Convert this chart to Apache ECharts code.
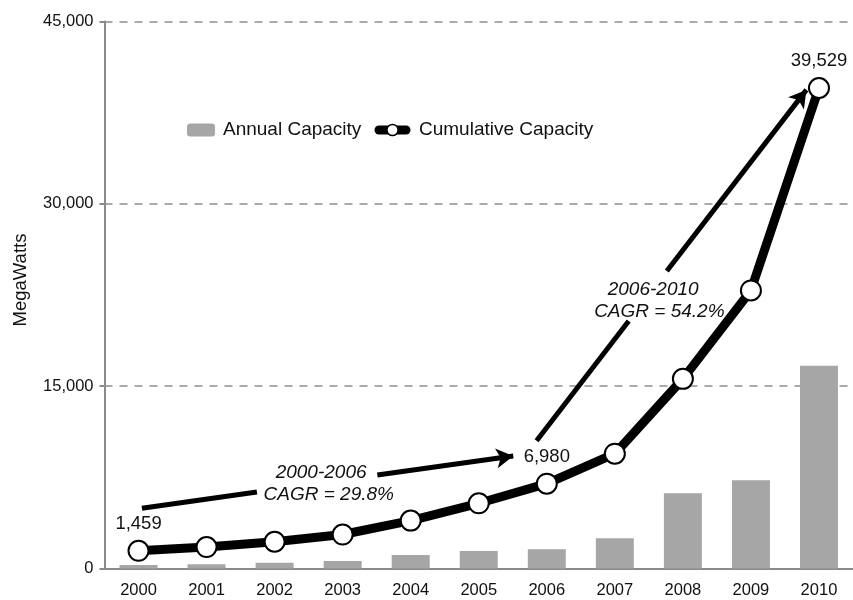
<!DOCTYPE html>
<html>
<head>
<meta charset="utf-8">
<script src="https://cdn.jsdelivr.net/npm/echarts@6/dist/echarts.min.js"></script>
<style>
html,body{margin:0;padding:0;background:#fff;}
#chart{width:853px;height:600px;}
</style>
</head>
<body>
<div id="chart"></div>
<script>
// ---- data ----
var years = ['2000','2001','2002','2003','2004','2005','2006','2007','2008','2009','2010'];
var annualCapacity = [285, 340, 470, 610, 1110, 1430, 1580, 2480, 6190, 7270, 16680];
var cumulativeCapacity = [1459, 1762, 2201, 2795, 3939, 5364, 6980, 9443, 15600, 22878, 39529];
var labeledPoints = [0, 6, 10];
var yTicks = [0, 15000, 30000, 45000];

// annotation arrows (category index, value) — segments broken around text
var arrow1a = [[0.05, 4953], [1.74, 6287]];
var arrow1b = [[3.51, 7685], [5.507, 9257]];
var arrow2a = [[5.85, 10516], [7.204, 20365]];
var arrow2b = [[7.764, 24480], [9.815, 39373]];
var annotTexts = [
  {text: '2000-2006', at: [2.683, 7883]},
  {text: 'CAGR = 29.8%', at: [2.796, 6105]},
  {text: '2006-2010', at: [7.563, 22974]},
  {text: 'CAGR = 54.2%', at: [7.654, 21131]}
];

var chart = echarts.init(document.getElementById('chart'), null, {renderer: 'canvas'});
var FONT = 'Liberation Sans, Arial, Helvetica, sans-serif';

function seg(s, withArrow) {
  return [
    {coord: s[0], symbol: 'none'},
    {coord: s[1], symbol: withArrow ? 'arrow' : 'none'}
  ];
}

var lineData = cumulativeCapacity.map(function (v, i) {
  if (labeledPoints.indexOf(i) >= 0) {
    return {value: v, label: {show: true}};
  }
  return v;
});

var option = {
  backgroundColor: '#fff',
  animation: false,
  textStyle: {fontFamily: FONT},
  grid: {left: 104.5, right: 0, top: 21.5, bottom: 31.5, containLabel: false},
  legend: [
    {
      data: ['Annual Capacity'],
      left: 182, top: 115,
      itemWidth: 28, itemHeight: 13,
      textStyle: {fontSize: 19, color: '#111', fontFamily: FONT, lineHeight: 20, padding: [0, 0, 0, 3]},
      selectedMode: false
    },
    {
      data: ['Cumulative Capacity'],
      left: 369.5, top: 115,
      itemWidth: 27, itemHeight: 14,
      lineStyle: {width: 9, color: '#000', cap: 'round'},
      itemStyle: {color: '#fff', borderColor: '#000', borderWidth: 1.5},
      textStyle: {fontSize: 19, color: '#111', fontFamily: FONT, lineHeight: 20, padding: [0, 0, 0, 8]},
      selectedMode: false
    }
  ],
  xAxis: [
    {
      type: 'category',
      data: years,
      boundaryGap: true,
      axisLine: {show: true, onZero: false, lineStyle: {color: '#8a8a8a', width: 2}},
      axisTick: {show: false},
      axisLabel: {fontSize: 16.5, color: '#111', margin: 13, fontFamily: FONT},
      splitLine: {show: false}
    },
    {
      type: 'value',
      min: -0.5, max: 10.5,
      show: false,
      axisLine: {onZero: false},
      splitLine: {show: false}
    }
  ],
  yAxis: {
    type: 'value',
    min: 0, max: 45000, interval: 15000,
    name: 'MegaWatts',
    nameLocation: 'middle',
    nameGap: 74,
    nameTextStyle: {fontSize: 18.5, color: '#111', fontFamily: FONT, padding: [0, 0, 0, 30]},
    axisLine: {show: true, onZero: false, lineStyle: {color: '#8a8a8a', width: 2}},
    axisTick: {show: true, length: 5, lineStyle: {color: '#8a8a8a', width: 2}},
    axisLabel: {
      fontSize: 16.5, color: '#111', margin: 11, fontFamily: FONT,
      formatter: function (v) { return yTicks.indexOf(v) >= 0 ? v.toLocaleString('en-US') : ''; }
    },
    splitLine: {show: true, lineStyle: {color: '#8f8f8f', width: 1.5, type: [8, 7]}}
  },
  series: [
    {
      name: 'Annual Capacity',
      type: 'bar',
      data: annualCapacity,
      barWidth: 38,
      itemStyle: {color: '#a6a6a6'},
      z: 2
    },
    {
      name: 'Cumulative Capacity',
      type: 'line',
      data: lineData,
      symbol: 'circle',
      symbolSize: 20,
      showAllSymbol: true,
      lineStyle: {color: '#000', width: 9, join: 'round'},
      itemStyle: {color: '#fff', borderColor: '#000', borderWidth: 2},
      label: {
        show: false, position: 'top', distance: 7,
        fontSize: 18.5, lineHeight: 18, color: '#111', fontFamily: FONT,
        formatter: function (p) { return p.value.toLocaleString('en-US'); }
      },
      z: 5
    },
    {
      name: 'annotations',
      type: 'line',
      xAxisIndex: 1,
      data: [],
      silent: true,
      markLine: {
        silent: true,
        animation: false,
        symbolSize: [15, 17],
        label: {show: false},
        lineStyle: {color: '#000', width: 5, type: 'solid', cap: 'butt'},
        emphasis: {disabled: true},
        data: [
          seg(arrow1a, false),
          seg(arrow1b, true),
          seg(arrow2a, false),
          seg(arrow2b, true)
        ]
      },
      markPoint: {
        silent: true,
        symbol: 'circle',
        symbolSize: 0,
        itemStyle: {color: 'transparent'},
        label: {
          show: true, position: 'inside',
          fontSize: 19, fontStyle: 'italic', color: '#111', fontFamily: FONT
        },
        data: annotTexts.map(function (a) {
          return {coord: a.at, value: a.text, label: {formatter: a.text}};
        })
      },
      z: 6
    }
  ]
};

chart.setOption(option);
</script>
</body>
</html>
